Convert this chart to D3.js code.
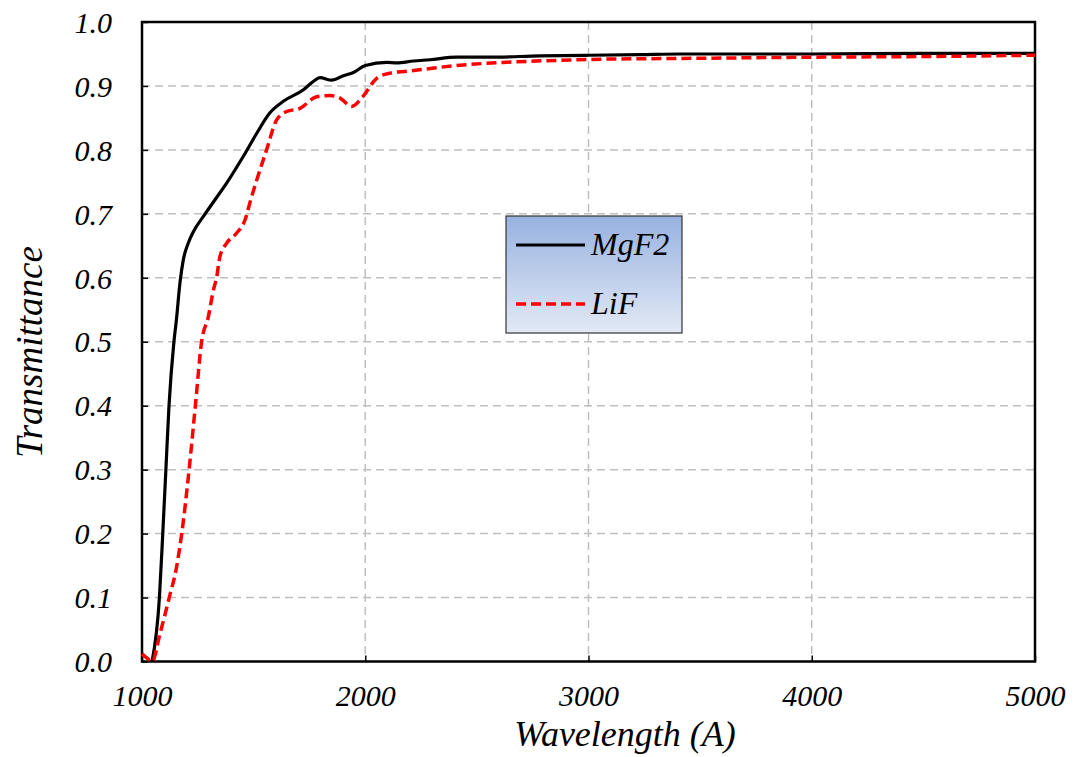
<!DOCTYPE html>
<html><head><meta charset="utf-8">
<script src="https://cdn.jsdelivr.net/npm/d3@7"></script>
<style>body{margin:0;background:#fff}svg{display:block}</style>
</head><body><div id="c"></div>
<script>
const xTicks = [1000, 2000, 3000, 4000, 5000];
const yTicks = [0, 0.1, 0.2, 0.3, 0.4, 0.5, 0.6, 0.7, 0.8, 0.9, 1.0];
const seriesNames = ["MgF2", "LiF"];
const mgf2Wave = [1045,1078,1093,1107,1121,1143,1154,1170,1185,1207,1230,1275,1327,1379,1454,1514,1573,1633,1723,1767,1797,1850,1902,1947,2000,2097,2141,2216,2290,2409,2559,2783,3000,3231,3410,4000,4500,5000];
const mgf2T    = [0,0.1,0.2,0.3,0.4,0.5,0.534,0.592,0.628,0.654,0.672,0.696,0.722,0.748,0.79,0.826,0.858,0.876,0.894,0.907,0.913,0.909,0.916,0.921,0.932,0.937,0.936,0.939,0.941,0.945,0.945,0.947,0.948,0.949,0.950,0.950,0.951,0.951];
const lifWave = [1000,1020,1045,1081,1122,1155,1178,1211,1239,1267,1297,1320,1334,1349,1379,1424,1461,1487,1514,1558,1603,1648,1708,1782,1842,1887,1939,1991,2051,2111,2186,2260,2409,2633,2857,3081,3410,4000,4500,5000];
const lifT    = [0.012,0.006,0,0.044,0.1,0.148,0.2,0.3,0.4,0.5,0.539,0.581,0.6,0.633,0.654,0.67,0.69,0.722,0.753,0.80,0.847,0.860,0.865,0.883,0.885,0.881,0.868,0.884,0.912,0.920,0.923,0.926,0.932,0.937,0.940,0.942,0.943,0.945,0.946,0.948];

const W = 1086, H = 757;
const L = 142, R = 1035, T = 22, B = 661.5;
const svg = d3.select("#c").append("svg").attr("width", W).attr("height", H);
const font = "'Liberation Serif','Times New Roman',serif";
const x = d3.scaleLinear().domain([1000, 5000]).range([L, R]);
const y = d3.scaleLinear().domain([0, 1]).range([B, T]);

// gridlines
const g = svg.append("g");
g.selectAll("line.h").data(yTicks.slice(1, -1)).enter().append("line")
  .attr("x1", L).attr("x2", R).attr("y1", d => y(d)).attr("y2", d => y(d))
  .attr("stroke", "#bfbfbf").attr("stroke-width", 1.5).attr("stroke-dasharray", "8,5");
g.selectAll("line.v").data(xTicks.slice(1, -1)).enter().append("line")
  .attr("y1", T).attr("y2", B).attr("x1", d => x(d)).attr("x2", d => x(d))
  .attr("stroke", "#bfbfbf").attr("stroke-width", 1.5).attr("stroke-dasharray", "8,5");

// axes with inward ticks
const yAxis = d3.axisLeft(y).tickValues(yTicks).tickSize(-6).tickPadding(30).tickFormat(d3.format(".1f"));
const xAxis = d3.axisBottom(x).tickValues(xTicks).tickSize(-6).tickPadding(30).tickFormat(d3.format("d"));
const ya = svg.append("g").attr("transform", `translate(${L},0)`).call(yAxis);
const xa = svg.append("g").attr("transform", `translate(0,${B})`).call(xAxis);
[ya, xa].forEach(a => {
  a.attr("font-family", font);
  a.select(".domain").remove();
  a.selectAll(".tick line").attr("stroke", "#000").attr("stroke-width", 1.5);
  a.selectAll("text").attr("font-family", font).attr("font-style", "italic").attr("font-size", 30).attr("fill", "#000");
});
ya.selectAll("text").attr("x", -30).attr("dy", "0.34em");
xa.selectAll("text").attr("y", 44).attr("dy", null);

// frame
svg.append("rect").attr("x", L).attr("y", T).attr("width", R - L).attr("height", B - T)
  .attr("fill", "none").attr("stroke", "#000").attr("stroke-width", 2.5);

// lines
const line = d3.line().x(d => x(d[0])).y(d => y(d[1])).curve(d3.curveMonotoneX);
const mg = mgf2Wave.map((w, i) => [w, mgf2T[i]]);
const li = lifWave.map((w, i) => [w, lifT[i]]);
svg.append("path").attr("d", line(mg)).attr("fill", "none").attr("stroke", "#000").attr("stroke-width", 3.2);
svg.append("path").attr("d", line(li)).attr("fill", "none").attr("stroke", "#ff0000").attr("stroke-width", 3.5).attr("stroke-dasharray", "10,5");

// axis titles
svg.append("text").attr("x", 625).attr("y", 746).attr("text-anchor", "middle")
  .attr("font-family", font).attr("font-style", "italic").attr("font-size", 36).text("Wavelength (A)");
svg.append("text").attr("transform", "translate(42,352) rotate(-90)").attr("text-anchor", "middle")
  .attr("font-family", font).attr("font-style", "italic").attr("font-size", 37).text("Transmittance");

// legend
const defs = svg.append("defs");
const grad = defs.append("linearGradient").attr("id", "lg").attr("x1", 0).attr("y1", 0).attr("x2", 0).attr("y2", 1);
grad.append("stop").attr("offset", "0%").attr("stop-color", "#97b2e0");
grad.append("stop").attr("offset", "100%").attr("stop-color", "#e3e9f5");
const lg = svg.append("g");
lg.append("rect").attr("x", 506).attr("y", 216).attr("width", 176).attr("height", 117)
  .attr("fill", "url(#lg)").attr("stroke", "#333").attr("stroke-width", 1.2);
const ly = [245, 304];
seriesNames.forEach((n, i) => {
  lg.append("line").attr("x1", 516).attr("x2", 585).attr("y1", ly[i]).attr("y2", ly[i])
    .attr("stroke", i ? "#ff0000" : "#000").attr("stroke-width", i ? 3.5 : 3.2)
    .attr("stroke-dasharray", i ? "10,5" : null);
  lg.append("text").attr("x", 591).attr("y", ly[i] + 10).attr("font-family", font)
    .attr("font-style", "italic").attr("font-size", 32).text(n);
});
</script></body></html>
